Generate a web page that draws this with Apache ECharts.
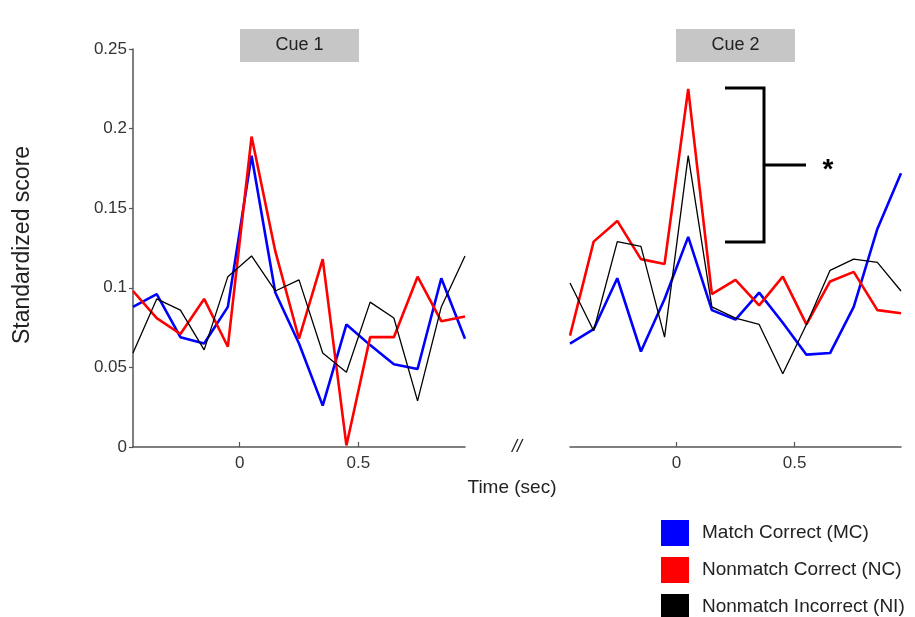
<!DOCTYPE html>
<html>
<head>
<meta charset="utf-8">
<script src="https://cdn.jsdelivr.net/npm/echarts@6/dist/echarts.min.js"></script>
<style>html,body{margin:0;padding:0;background:#fff}#c{width:915px;height:617px}</style>
</head>
<body>
<div id="c"></div>
<script>
const times = [-0.45, -0.35, -0.25, -0.15, -0.05, 0.05, 0.15, 0.25, 0.35, 0.45, 0.55, 0.65, 0.75, 0.85, 0.95];
const xTicks = [0, 0.5];
const seriesNames = ['Match Correct (MC)', 'Nonmatch Correct (NC)', 'Nonmatch Incorrect (NI)'];
const panelTitles = ['Cue 1', 'Cue 2'];

const cue1MC = [0.088, 0.096, 0.069, 0.065, 0.088, 0.183, 0.097, 0.065, 0.026, 0.077, 0.064, 0.052, 0.049, 0.106, 0.068];
const cue1NC = [0.098, 0.081, 0.071, 0.093, 0.063, 0.195, 0.123, 0.068, 0.118, 0.001, 0.069, 0.069, 0.107, 0.079, 0.082];
const cue1NI = [0.059, 0.093, 0.086, 0.061, 0.107, 0.120, 0.098, 0.105, 0.059, 0.047, 0.091, 0.081, 0.029, 0.088, 0.120];

const cue2MC = [0.065, 0.074, 0.106, 0.060, 0.093, 0.132, 0.086, 0.080, 0.097, 0.078, 0.058, 0.059, 0.088, 0.137, 0.172];
const cue2NC = [0.070, 0.129, 0.142, 0.118, 0.115, 0.225, 0.096, 0.105, 0.089, 0.107, 0.077, 0.104, 0.110, 0.086, 0.084];
const cue2NI = [0.103, 0.073, 0.129, 0.126, 0.069, 0.183, 0.088, 0.081, 0.077, 0.046, 0.077, 0.111, 0.118, 0.116, 0.098];

const colors = ['#0000ff', '#ff0000', '#000000'];
const widths = [2.6, 2.6, 1.3];
const FONT = '"Liberation Sans", Arial, sans-serif';

function pts(vals) { return times.map((t, i) => [t, vals[i]]); }

function makeSeries(idx, arrs) {
  return arrs.map((a, k) => ({
    name: seriesNames[k],
    type: 'line',
    xAxisIndex: idx, yAxisIndex: idx,
    data: pts(a),
    showSymbol: false,
    symbol: 'none',
    color: colors[k],
    itemStyle: { color: colors[k] },
    lineStyle: { color: colors[k], width: widths[k] },
    z: k === 2 ? 4 : 3,
    animation: false
  }));
}

function xAxis(idx) {
  return {
    type: 'value', gridIndex: idx, min: -0.45, max: 0.95,
    axisLine: { show: true, onZero: false, lineStyle: { color: '#555', width: 1.5 } },
    axisTick: { show: true, inside: true, length: 5, customValues: xTicks, lineStyle: { color: '#555', width: 1.2 } },
    axisLabel: { show: true, customValues: xTicks, fontSize: 17, color: '#333', fontFamily: FONT, margin: 8 },
    splitLine: { show: false }
  };
}

function yAxis(idx) {
  return {
    type: 'value', gridIndex: idx, min: 0, max: 0.25, interval: 0.05,
    axisLine: { show: idx === 0, onZero: false, lineStyle: { color: '#555', width: 1.5 } },
    axisTick: { show: idx === 0, length: 4, lineStyle: { color: '#555', width: 1.2 } },
    axisLabel: { show: idx === 0, fontSize: 17, color: '#333', fontFamily: FONT, margin: 6,
      formatter: v => String(+v.toFixed(2)) },
    splitLine: { show: false }
  };
}

function legend(k, top) {
  return {
    data: [seriesNames[k]], orient: 'vertical', left: 661, top: top, padding: 0,
    icon: 'rect', itemWidth: 28, itemHeight: 26, itemGap: 0,
    textStyle: { fontSize: 19, color: '#222', fontFamily: FONT, padding: [0, 0, 0, 8] },
    selectedMode: false
  };
}

const chart = echarts.init(document.getElementById('c'), null, { renderer: 'canvas' });
chart.setOption({
  backgroundColor: '#fff',
  animation: false,
  grid: [
    { left: 133, top: 49, width: 332, height: 398 },
    { left: 570, top: 49, width: 331, height: 398 }
  ],
  xAxis: [xAxis(0), xAxis(1)],
  yAxis: [yAxis(0), yAxis(1)],
  legend: [legend(0, 520), legend(1, 557), legend(2, 594)],
  series: [...makeSeries(0, [cue1MC, cue1NC, cue1NI]), ...makeSeries(1, [cue2MC, cue2NC, cue2NI])],
  graphic: [
    { type: 'rect', shape: { x: 240, y: 29, width: 119, height: 33 }, style: { fill: '#c6c6c6' } },
    { type: 'text', x: 299.5, y: 45.5, style: { text: panelTitles[0], font: '18px ' + FONT, fill: '#222', textAlign: 'center', textVerticalAlign: 'middle' } },
    { type: 'rect', shape: { x: 676, y: 29, width: 119, height: 33 }, style: { fill: '#c6c6c6' } },
    { type: 'text', x: 735.5, y: 45.5, style: { text: panelTitles[1], font: '18px ' + FONT, fill: '#222', textAlign: 'center', textVerticalAlign: 'middle' } },
    { type: 'polyline', shape: { points: [[725, 88], [764, 88], [764, 242], [725, 242]] }, style: { stroke: '#000', lineWidth: 3, fill: null } },
    { type: 'line', shape: { x1: 764, y1: 165, x2: 806, y2: 165 }, style: { stroke: '#000', lineWidth: 3 } },
    { type: 'text', x: 828, y: 170, style: { text: '*', font: 'bold 28px ' + FONT, fill: '#000', textAlign: 'center', textVerticalAlign: 'middle' } },
    { type: 'text', x: 517, y: 447, style: { text: '//', font: 'italic 18px ' + FONT, fill: '#222', textAlign: 'center', textVerticalAlign: 'middle' } },
    { type: 'text', x: 512, y: 488, style: { text: 'Time (sec)', font: '19px ' + FONT, fill: '#222', textAlign: 'center', textVerticalAlign: 'middle' } },
    { type: 'text', x: 23, y: 245, rotation: Math.PI / 2, style: { text: 'Standardized score', font: '23px ' + FONT, fill: '#222', textAlign: 'center', textVerticalAlign: 'middle' } }
  ]
});
</script>
</body>
</html>
